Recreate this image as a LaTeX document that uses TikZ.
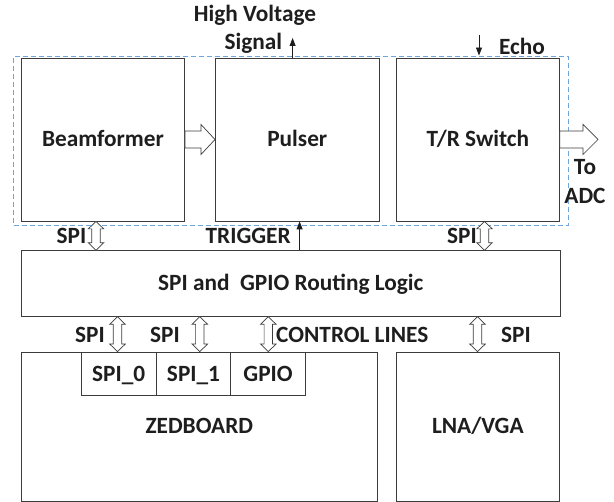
\documentclass[tikz,border=0pt]{standalone}
\usepackage{fontspec}
\setmainfont{Carlito}
\usetikzlibrary{calc,arrows.meta}
\definecolor{txt}{HTML}{1E1E1E}
\definecolor{edgec}{HTML}{3C3C3C}
\definecolor{dashblue}{RGB}{110,165,220}
% vertical hollow double arrow: #1 = x (px), #2 = upper anchor, #3 = lower anchor
\newcommand\vdarrow[3]{%
  \draw[hollow] let \p1=(#2), \p2=(#3) in
    (#1pt,\y1) -- (#1pt+7.7pt,\y1-7.5pt) -- (#1pt+4.2pt,\y1-7.5pt) --
    (#1pt+4.2pt,\y2+7.5pt) -- (#1pt+7.7pt,\y2+7.5pt) -- (#1pt,\y2) --
    (#1pt-7.7pt,\y2+7.5pt) -- (#1pt-4.2pt,\y2+7.5pt) --
    (#1pt-4.2pt,\y1-7.5pt) -- (#1pt-7.7pt,\y1-7.5pt) -- cycle;}
% horizontal hollow arrow: #1 = start anchor, #2 = end anchor, #3 = head length
\newcommand\hrarrow[3]{%
  \draw[hollow] let \p1=(#1), \p2=(#2) in
    (\x1,\y1+8.5pt) -- (\x2-#3pt,\y1+8.5pt) -- (\x2-#3pt,\y1+15pt) --
    (\x2,\y1) -- (\x2-#3pt,\y1-15pt) -- (\x2-#3pt,\y1-8.5pt) --
    (\x1,\y1-8.5pt) -- cycle;}
\begin{document}
\begin{tikzpicture}[x=1pt,y=-1pt,
  font=\bfseries\fontsize{23.3}{28}\selectfont,
  box/.style={draw=edgec, line width=0.8pt, inner sep=0pt, text=txt,
    text height=14.7pt, text depth=0pt},
  lbl/.style={anchor=base, inner sep=0pt, text=txt},
  hollow/.style={draw=edgec, fill=white, line width=0.7pt, line join=miter},
  sig/.style={draw=txt, line width=0.8pt, -{Triangle[length=8pt,width=6pt]}},
  grpbox/.style={draw=dashblue, line width=0.9pt, dash pattern=on 5pt off 3pt, inner sep=0pt}]
\useasboundingbox (0,0) rectangle (614,502);

% dashed group
\node[grpbox, minimum width=554.3pt, minimum height=169.7pt] (grp) at (290.85,140.85) {};

% upper blocks
\node[box, minimum width=163pt, minimum height=163pt] (beam) at (103,139.5) {Beamformer};
\node[box, minimum width=163.8pt, minimum height=163pt] (pulser) at (297.3,139.5) {Pulser};
\node[box, minimum width=163pt, minimum height=163pt] (tr) at (477.9,139.5) {T/R Switch};

% routing logic
\node[box, minimum width=538.5pt, minimum height=65.6pt] (route) at (290.75,283.5) {SPI and~ GPIO Routing Logic};

% lower blocks
\node[box, minimum width=355.7pt, minimum height=149pt] (zed) at (199.35,426.5) {ZEDBOARD};
\node[box, minimum width=163pt, minimum height=149pt] (lna) at (477.85,426.5) {LNA/VGA};
\node[box, minimum width=75.2pt, minimum height=43.7pt] (spi0) at (118.7,373.85) {SPI\_0};
\node[box, minimum width=74.4pt, minimum height=43.7pt] (spi1) at (193.5,373.85) {SPI\_1};
\node[box, minimum width=74.8pt, minimum height=43.7pt] (gpio) at (268.1,373.85) {GPIO};

% hollow arrows between blocks
\hrarrow{beam.east}{pulser.west}{14}
\coordinate (adc) at (598,139.5);
\hrarrow{tr.east}{adc}{15}

\vdarrow{96}{beam.south}{route.north}
\vdarrow{484.5}{tr.south}{route.north}
\vdarrow{117.5}{route.south}{zed.north}
\vdarrow{199.8}{route.south}{zed.north}
\vdarrow{268.3}{route.south}{zed.north}
\vdarrow{477.5}{route.south}{lna.north}

% signal arrows
\coordinate (hvtip) at (292.6,38);
\draw[sig] (hvtip |- pulser.north) -- (hvtip);
\coordinate (echostart) at (479,35);
\draw[sig] (echostart) -- (echostart |- grp.north);
\coordinate (trigx) at (299.6,0);
\draw[sig] (trigx |- route.north) -- (trigx |- pulser.south);

% labels
\node[lbl] (hv1) at (255,21.5) {High Voltage};
\node[lbl] (hv2) at (253.3,50) {Signal};
\node[lbl] (echo) at (522,54.3) {Echo};
\node[lbl] (to) at (585,175) {To};
\node[lbl] (adclbl) at (585,203.5) {ADC};
\node[lbl] (spitl) at (71.5,244) {SPI};
\node[lbl] (trig) at (248.2,244) {TRIGGER};
\node[lbl] (spitr) at (461.9,244) {SPI};
\node[lbl] (spib1) at (90,343) {SPI};
\node[lbl] (spib2) at (165,343) {SPI};
\node[lbl, anchor=base west] (ctrl) at (276,343) {CONTROL LINES};
\node[lbl] (spib3) at (516,343) {SPI};
\end{tikzpicture}
\end{document}
